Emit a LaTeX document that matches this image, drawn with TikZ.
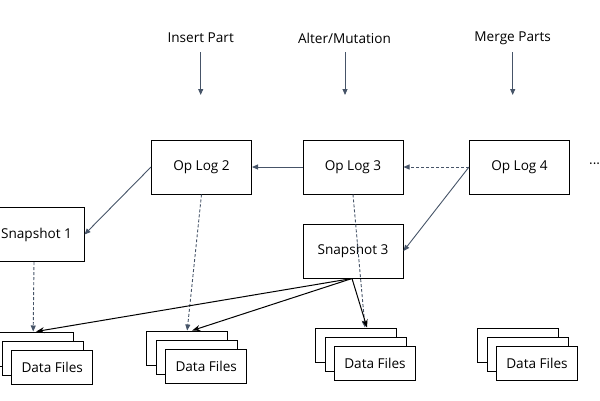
\documentclass[tikz,border=0pt]{standalone}
\usepackage{fontspec}
\setmainfont{Open Sans}
\usetikzlibrary{arrows.meta,calc}
\definecolor{arr}{RGB}{70,84,104}
\newcommand\dstack[3]{%
  \node[df] (#1b) at ({#2-19},{#3-18}) {};
  \node[df] (#1m) at ({#2-9.5},{#3-9}) {};
  \node[df] (#1f) at (#2,#3) {Data Files};
}
\begin{document}
\begin{tikzpicture}[x=1pt,y=-1pt,
  font=\fontsize{13.6}{16}\selectfont,
  box/.style={draw=black, line width=1pt, fill=white, minimum width=100pt, minimum height=54pt, inner sep=0pt},
  df/.style={draw=black, line width=1pt, fill=white, minimum width=81pt, minimum height=34pt, inner sep=0pt},
  garr/.style={draw=arr, line width=0.9pt, -{Triangle[length=6pt,width=5pt]}},
  gdash/.style={garr, dash pattern=on 3pt off 2pt},
  barr/.style={draw=black, line width=1pt, -{Stealth[length=8pt,width=6pt]}},
  lbl/.style={inner sep=0pt}]
\useasboundingbox (0,0) rectangle (600,400);
\begin{scope}
\clip (0,0) rectangle (600,400);
% top labels
\node[lbl] (ins) at (200.7,38) {Insert Part};
\node[lbl] (alt) at (344.5,38) {Alter/Mutation};
\node[lbl] (mrg) at (512.7,38) {Merge Parts};
\coordinate (insA) at (200.7,52); \coordinate (insB) at (200.7,95);
\coordinate (altA) at (345,52); \coordinate (altB) at (345,95);
\coordinate (mrgA) at (512.7,52); \coordinate (mrgB) at (512.7,95);
\draw[garr] (insA) -- (insB);
\draw[garr] (altA) -- (altB);
\draw[garr] (mrgA) -- (mrgB);
% op logs
\node[box] (op2) at (201.5,167) {Op Log 2};
\node[box] (op3) at (353,167) {Op Log 3};
\node[box] (op4) at (519.5,167) {Op Log 4};
\node[lbl, anchor=west] (more) at (589,166) {···};
% snapshots
\node[box] (s1) at (34,234.5) {\hspace*{5pt}Snapshot 1};
\node[box] (s3) at (353,251) {Snapshot 3};
% data files
\dstack{d1}{52.2}{367}
\dstack{d2}{206.2}{366}
\dstack{d3}{375}{363}
\dstack{d4}{537}{363}
% connectors
\draw[garr] (op3.west) -- (op2.east);
\draw[gdash] (op4.west) -- (op3.east);
\draw[garr] (op4.west) -- (s3.east);
\draw[garr] (op2.west) -- (s1.east);
\draw[gdash] (s1.south) -- (d1b.north);
\draw[gdash] (op2.south) -- (d2b.north);
\draw[gdash] (op3.south) -- ([xshift=9pt]d3b.north);
\draw[barr] ([xshift=-1pt]s3.south) -- ([xshift=3pt]d1b.north);
\draw[barr] ([xshift=-1pt]s3.south) -- ([xshift=5pt]d2b.north);
\draw[barr] ([xshift=-1pt]s3.south) -- ([xshift=11pt]d3b.north);
\end{scope}
\end{tikzpicture}
\end{document}
